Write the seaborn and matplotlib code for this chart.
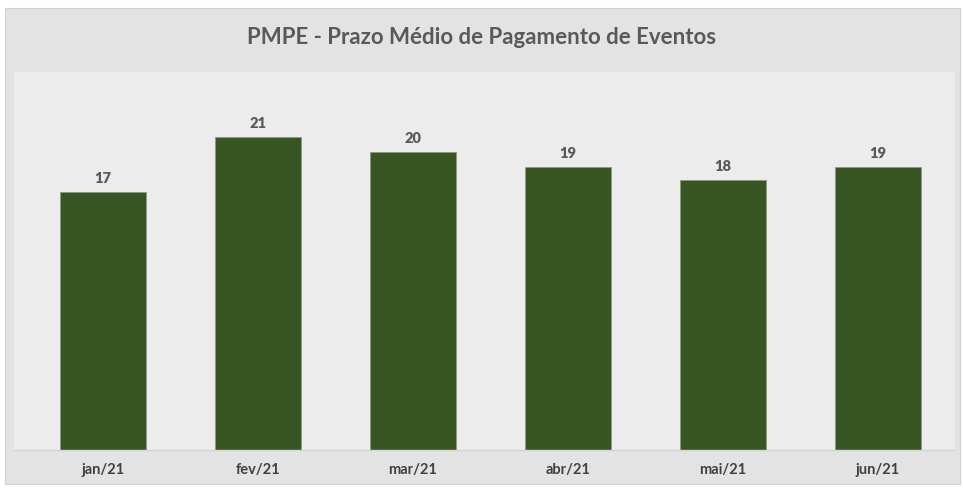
import matplotlib
matplotlib.use("Agg")
import matplotlib.pyplot as plt
from matplotlib.patches import Rectangle
import seaborn as sns
import pandas as pd

sns.set_style("white")
plt.rcParams["font.family"] = ["Lato", "DejaVu Sans"]

months = ["jan/21", "fev/21", "mar/21", "abr/21", "mai/21", "jun/21"]
pmpe = [17.3, 20.97, 20.0, 18.95, 18.12, 18.95]

df = pd.DataFrame({"mes": months, "dias": pmpe})

W, H = 963, 489
fig = plt.figure(figsize=(W / 100, H / 100), dpi=100, facecolor="white")

# outer chart card (behind the axes)
fig.patches.append(Rectangle((5 / W, 1 - 485 / H), 955 / W, 476 / H,
                             transform=fig.transFigure, facecolor="#e3e3e3",
                             edgecolor="#d0d0d0", linewidth=0.8, zorder=-10))

ax = fig.add_axes([14 / W, 1 - 450.7 / H, 941 / W, (450.7 - 73) / H])
ax.set_zorder(1)
ax.set_facecolor("#ececec")

sns.barplot(data=df, x="mes", y="dias", color="#375623", width=0.555,
            saturation=1, edgecolor="#8c9a84", linewidth=0.6, ax=ax)

ax.set_xlim(-0.5 - 11.5 / 155, 5.5)
ax.set_ylim(0, 25.35)

for i, v in enumerate(pmpe):
    ax.text(i, v + 0.55, f"{v:.0f}", ha="center", va="bottom",
            fontsize=10.5, fontweight="heavy", color="#595959")

ax.set_xlabel("")
ax.set_ylabel("")
ax.set_yticks([])
ax.tick_params(axis="x", length=0, pad=9, labelsize=10.5, colors="#404040")
for lbl in ax.get_xticklabels():
    lbl.set_fontweight("bold")
for side in ["top", "left", "right"]:
    ax.spines[side].set_visible(False)
ax.spines["bottom"].set_color("#d4d4d4")
ax.spines["bottom"].set_linewidth(1)

fig.text(0.5, 1 - 38 / H, "PMPE - Prazo Médio de Pagamento de Eventos",
         ha="center", va="center", fontsize=16, fontweight="bold",
         color="#595959")

fig.savefig("out.png", dpi=100, facecolor="white")
